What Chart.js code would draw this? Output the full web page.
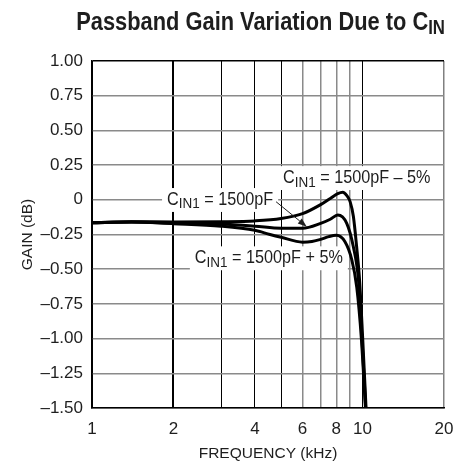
<!DOCTYPE html>
<html><head><meta charset="utf-8">
<script src="https://cdn.jsdelivr.net/npm/chart.js@4.4.1/dist/chart.umd.min.js"></script>
<style>html,body{margin:0;padding:0;background:#fff;}#wrap{width:459px;height:466px;}</style>
</head><body><div id="wrap"><canvas id="c" width="459" height="466"></canvas></div>
<script>
const FONT = '"Liberation Sans", Arial, Helvetica, sans-serif';
const INK = '#1e1e1e';

// Axis ticks
const xTickValues = [1, 2, 3, 4, 5, 6, 7, 8, 9, 10, 20];
const xTickLabels = { 1: '1', 2: '2', 4: '4', 6: '6', 8: '8', 10: '10', 20: '20' };
const yTickValues = [1.0, 0.75, 0.5, 0.25, 0, -0.25, -0.5, -0.75, -1.0, -1.25, -1.5];
const yTickLabels = ['1.00', '0.75', '0.50', '0.25', '0', '–0.25', '–0.50', '–0.75', '–1.00', '–1.25', '–1.50'];

// Series: C_IN1 = 1500pF – 5%
const freqMinus5 = [1, 1.4, 2, 3, 4, 5, 6, 7, 7.6, 8.1, 8.45, 8.75, 9.0, 9.25, 9.5, 9.75, 10.0, 10.3];
const gainMinus5 = [-0.165, -0.158, -0.16, -0.158, -0.152, -0.135, -0.1, -0.035, 0.01, 0.045, 0.055, 0.03, -0.015, -0.12, -0.33, -0.58, -0.98, -1.5];
// Series: C_IN1 = 1500pF
const freqNominal = [1, 1.4, 2, 3, 4, 5, 6, 7, 7.6, 8.1, 8.74, 9.25, 9.66, 9.95, 10.27];
const gainNominal = [-0.165, -0.16, -0.168, -0.175, -0.19, -0.205, -0.205, -0.17, -0.14, -0.11, -0.17, -0.34, -0.58, -1.0, -1.5];
// Series: C_IN1 = 1500pF + 5%
const freqPlus5 = [1, 1.4, 2, 3, 4, 4.55, 5, 6, 6.5, 7, 7.5, 8.0, 8.6, 9.12, 9.52, 9.9, 10.25];
const gainPlus5 = [-0.165, -0.16, -0.172, -0.19, -0.22, -0.25, -0.27, -0.305, -0.3, -0.285, -0.265, -0.255, -0.3, -0.43, -0.63, -1.0, -1.5];

// Annotation text (anchors in data units)
const labelTexts = [' = 1500pF – 5%', ' = 1500pF', ' = 1500pF + 5%'];
const labelFreq = [5.08, 1.894, 2.40];
const labelGain = [0.121, -0.037, -0.457];
const arrowFrom = [4.79, -0.014];
const arrowTo = [6.22, -0.194];

function toPoints(xs, ys) { return xs.map((x, i) => ({ x: x, y: ys[i] })); }

const MAIN_PX = 18, SUB_PX = 15, SUB_SHIFT = 3.5, SX = 0.9;
function measureCin(ctx, rest) {
  ctx.font = MAIN_PX + 'px ' + FONT; const a = ctx.measureText('C').width; const c = ctx.measureText(rest).width;
  ctx.font = SUB_PX + 'px ' + FONT; const b = ctx.measureText('IN1').width;
  return (a + b + c) * SX;
}
function drawCin(ctx, x, y, rest) {
  ctx.save(); ctx.translate(x, y); ctx.scale(SX, 1);
  ctx.textBaseline = 'alphabetic'; ctx.textAlign = 'left'; ctx.fillStyle = INK;
  ctx.font = MAIN_PX + 'px ' + FONT; ctx.fillText('C', 0, 0); let w = ctx.measureText('C').width;
  ctx.font = SUB_PX + 'px ' + FONT; ctx.fillText('IN1', w, SUB_SHIFT); w += ctx.measureText('IN1').width;
  ctx.font = MAIN_PX + 'px ' + FONT; ctx.fillText(rest, w, 0);
  ctx.restore();
}

const annotPlugin = {
  id: 'annot',
  beforeDatasetsDraw(chart) {
    const ctx = chart.ctx, xs = chart.scales.x, ys = chart.scales.y;
    ctx.save(); ctx.fillStyle = '#fff';
    labelTexts.forEach((t, i) => {
      const px = xs.getPixelForValue(labelFreq[i]), py = ys.getPixelForValue(labelGain[i]);
      const w = measureCin(ctx, t);
      ctx.fillRect(px - 5, py - MAIN_PX * 0.716 - 4, w + 10, MAIN_PX * 0.716 + 11);
    });
    ctx.restore();
  },
  afterDatasetsDraw(chart) {
    const ctx = chart.ctx, xs = chart.scales.x, ys = chart.scales.y;
    ctx.save();
    labelTexts.forEach((t, i) => {
      drawCin(ctx, xs.getPixelForValue(labelFreq[i]), ys.getPixelForValue(labelGain[i]), t);
    });
    const x0 = xs.getPixelForValue(arrowFrom[0]), y0 = ys.getPixelForValue(arrowFrom[1]);
    const x1 = xs.getPixelForValue(arrowTo[0]), y1 = ys.getPixelForValue(arrowTo[1]);
    const ang = Math.atan2(y1 - y0, x1 - x0), hl = 9, hw = 3.2;
    ctx.strokeStyle = INK; ctx.fillStyle = INK; ctx.lineWidth = 1;
    ctx.beginPath(); ctx.moveTo(x0, y0); ctx.lineTo(x1 - hl * Math.cos(ang), y1 - hl * Math.sin(ang)); ctx.stroke();
    ctx.beginPath(); ctx.moveTo(x1, y1);
    ctx.lineTo(x1 - hl * Math.cos(ang) + hw * Math.sin(ang), y1 - hl * Math.sin(ang) - hw * Math.cos(ang));
    ctx.lineTo(x1 - hl * Math.cos(ang) - hw * Math.sin(ang), y1 - hl * Math.sin(ang) + hw * Math.cos(ang));
    ctx.closePath(); ctx.fill();
    ctx.restore();
  },
  afterDraw(chart) {
    const ctx = chart.ctx; ctx.save();
    ctx.fillStyle = INK; ctx.textBaseline = 'alphabetic'; ctx.textAlign = 'left';
    const TS = 0.84;
    const mainF = 'bold 26px ' + FONT, subF = 'bold 20px ' + FONT;
    ctx.font = mainF; const m = 'Passband Gain Variation Due to C'; const wm = ctx.measureText(m).width;
    ctx.font = subF; const ws = ctx.measureText('IN').width;
    const x = chart.chartArea.right + 1 - (wm + ws) * TS, y = 30;
    ctx.translate(x, y); ctx.scale(TS, 1);
    ctx.font = mainF; ctx.fillText(m, 0, 0);
    ctx.font = subF; ctx.fillText('IN', wm, 3.5);
    ctx.restore();
  }
};

const xGridColor = v => (v === 20 ? '#808080' : (v >= 6 && v <= 9 ? '#8a8a8a' : '#000'));
const xGridWidth = v => (v === 2 ? 2 : (v >= 6 && v <= 9) || v === 20 ? 1.5 : 1);

new Chart(document.getElementById('c'), {
  type: 'line',
  data: {
    datasets: [
      { label: 'CIN1 = 1500pF – 5%', data: toPoints(freqMinus5, gainMinus5) },
      { label: 'CIN1 = 1500pF', data: toPoints(freqNominal, gainNominal) },
      { label: 'CIN1 = 1500pF + 5%', data: toPoints(freqPlus5, gainPlus5) }
    ].map(d => Object.assign(d, { borderColor: '#000', borderWidth: 3, pointRadius: 0, cubicInterpolationMode: 'monotone', fill: false }))
  },
  options: {
    responsive: false, animation: false,
    layout: { padding: { top: 61, right: 15, left: 0, bottom: 0 } },
    plugins: { legend: { display: false }, tooltip: { enabled: false }, title: { display: false } },
    scales: {
      x: {
        type: 'logarithmic', min: 1, max: 20,
        afterBuildTicks: s => { s.ticks = xTickValues.map(v => ({ value: v })); },
        afterFit: s => { s.height = 58; s.paddingRight = 0; s.paddingLeft = 0; },
        ticks: { autoSkip: false, maxRotation: 0, padding: 11, color: INK, font: { family: FONT, size: 17 },
          callback: (v) => xTickLabels[v] !== undefined ? xTickLabels[v] : '' },
        grid: { drawTicks: false, color: c => xGridColor(c.tick.value), lineWidth: c => xGridWidth(c.tick.value) },
        border: { display: true, color: '#000', width: 1.5 },
        title: { display: true, text: 'FREQUENCY (kHz)', color: INK, font: { family: FONT, size: 15.5 }, padding: { top: 0, bottom: 3 } }
      },
      y: {
        type: 'linear', min: -1.5, max: 1.0,
        afterBuildTicks: s => { s.ticks = yTickValues.map(v => ({ value: v })); },
        afterFit: s => { s.width = 92; s.paddingTop = 0; s.paddingBottom = 0; },
        ticks: { padding: 9, color: INK, font: { family: FONT, size: 17 },
          callback: (v) => { const i = yTickValues.indexOf(v); return i >= 0 ? yTickLabels[i] : ''; } },
        grid: { drawTicks: false, color: c => (c.tick.value === 1 ? '#000' : '#8a8a8a'), lineWidth: 1.5 },
        border: { display: true, color: '#000', width: 1.5 },
        title: { display: true, text: 'GAIN (dB)', color: INK, font: { family: FONT, size: 15.5 }, padding: { top: 18, bottom: 0 } }
      }
    }
  },
  plugins: [annotPlugin]
});
</script></body></html>
